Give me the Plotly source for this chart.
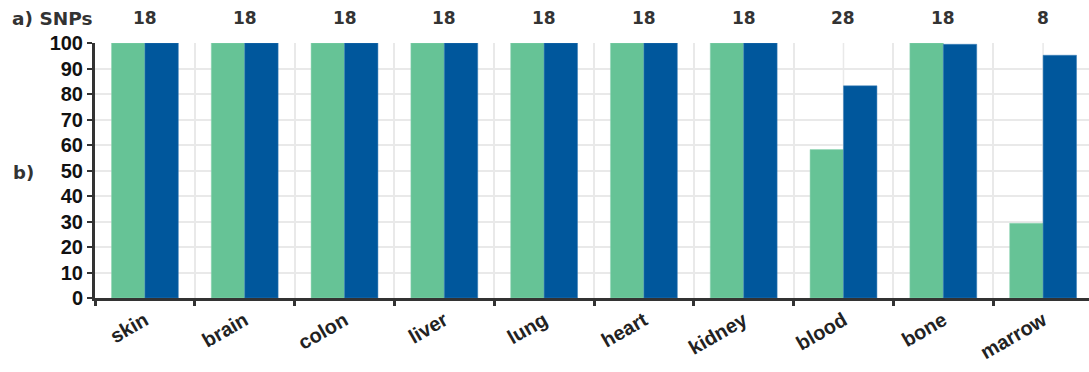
import plotly.graph_objects as go

categories = ["skin", "brain", "colon", "liver", "lung", "heart", "kidney", "blood", "bone", "marrow"]
snps = [18, 18, 18, 18, 18, 18, 18, 28, 18, 8]
series_green = [100, 100, 100, 100, 100, 100, 100, 58.2, 100, 29.3]
series_blue = [100, 100, 100, 100, 100, 100, 100, 83.2, 99.5, 95.2]
y_ticks = [0, 10, 20, 30, 40, 50, 60, 70, 80, 90, 100]

GREEN = "#66c396"
BLUE = "#00579c"
AXIS = "#333333"
GRID = "#e9e9e9"

fig = go.Figure()
fig.add_trace(go.Bar(x=categories, y=series_green, marker=dict(color=GREEN, line=dict(width=0.5, color="#8fd4b2")), showlegend=False))
fig.add_trace(go.Bar(x=categories, y=series_blue, marker=dict(color=BLUE, line=dict(width=0.5, color="#3b7fb8")), showlegend=False))

# center gridlines
for c in categories:
    fig.add_shape(type="line", xref="x", yref="paper", x0=c, x1=c, y0=0, y1=1,
                  line=dict(color=GRID, width=1.5), layer="below")

# SNP counts
for c, n in zip(categories, snps):
    fig.add_annotation(x=c, y=1.0, xref="x", yref="paper", yanchor="bottom", yshift=13,
                       text=str(n), showarrow=False,
                       font=dict(family="DejaVu Sans", size=17, color=AXIS, weight="bold"))

fig.add_annotation(xref="paper", yref="paper", x=-0.0855, y=1.0, yanchor="bottom", yshift=12,
                   xanchor="left", text="a) SNPs", showarrow=False,
                   font=dict(family="DejaVu Sans", size=18.5, color=AXIS, weight="bold"))
fig.add_annotation(xref="paper", yref="paper", x=-0.0845, y=0.494, xanchor="left", yanchor="middle",
                   text="b)", showarrow=False,
                   font=dict(family="DejaVu Sans", size=18, color=AXIS, weight="bold"))

fig.update_layout(
    width=1089, height=372,
    margin=dict(l=95, r=0, t=43, b=74),
    barmode="group", bargap=0.33, bargroupgap=0,
    plot_bgcolor="white", paper_bgcolor="white",
    xaxis=dict(
        type="category", range=[-0.5, 9.46],
        tickson="boundaries", ticks="outside", ticklen=5, tickwidth=3, tickcolor=AXIS,
        showline=True, linecolor=AXIS, linewidth=3,
        showgrid=True, gridcolor=GRID, gridwidth=1.5,
        tickangle=-30,
        tickfont=dict(family="Liberation Sans", size=20, color="#222222", weight="bold"),
    ),
    yaxis=dict(
        range=[0, 100], tickvals=y_ticks, ticks="outside", ticklen=5, tickwidth=2, tickcolor=AXIS,
        showline=True, linecolor=AXIS, linewidth=3,
        showgrid=True, gridcolor=GRID, gridwidth=1.5, zeroline=False,
        tickfont=dict(family="Liberation Sans", size=20, color="#111111", weight="bold"),
    ),
)

fig.write_html("out.html", config={"displayModeBar": False},
               post_script="document.body.style.margin='0';document.body.style.overflow='hidden';")
